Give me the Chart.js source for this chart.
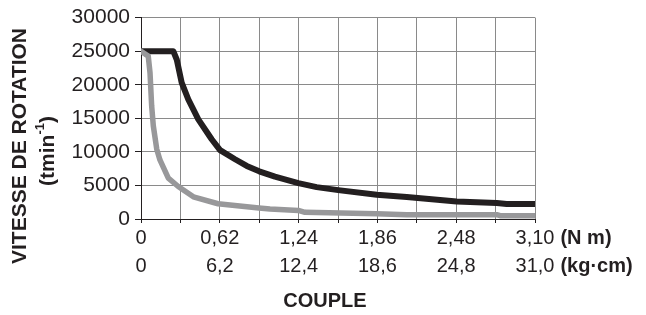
<!DOCTYPE html>
<html>
<head>
<meta charset="utf-8">
<script src="https://cdn.jsdelivr.net/npm/chart.js@4/dist/chart.umd.min.js"></script>
<style>
html, body { margin: 0; padding: 0; background: #fff; }
#wrap { width: 646px; height: 315px; }
</style>
</head>
<body>
<div id="wrap"><canvas id="myChart"></canvas></div>
<script>
// couple (N m) -> vitesse de rotation (t/min)
const blackX = [0, 0.254, 0.281, 0.320, 0.372, 0.451, 0.556, 0.622, 0.740, 0.832, 0.930, 1.054, 1.238, 1.382, 1.552, 1.855, 2.091, 2.484, 2.799, 2.877, 3.10];
const blackY = [25000, 25000, 23760, 20300, 17820, 14850, 11880, 10250, 8900, 7900, 7100, 6300, 5340, 4750, 4300, 3610, 3260, 2610, 2370, 2230, 2230];

const grayX = [0, 0.057, 0.071, 0.084, 0.097, 0.124, 0.149, 0.215, 0.293, 0.412, 0.606, 0.928, 1.015, 1.238, 1.290, 1.855, 2.091, 2.799, 2.825, 3.10];
const grayY = [25000, 24260, 21770, 16820, 13850, 10400, 8800, 6080, 4840, 3310, 2270, 1630, 1480, 1280, 1000, 790, 640, 640, 490, 490];

const labelsNm = ['0', '0,62', '1,24', '1,86', '2,48', '3,10'];
const labelsKg = ['0', '6,2', '12,4', '18,6', '24,8', '31,0'];

const FONT = 'Liberation Sans, Arial, Helvetica, sans-serif';

function toPoints(xs, ys) {
	return xs.map((x, i) => ({ x: x, y: ys[i] }));
}

// titres et unites dessines a la main
const extraText = {
	id: 'extraText',
	afterDraw(chart) {
		let ctx = chart.ctx;
		let xs = chart.scales.x;
		let area = chart.chartArea;
		ctx.save();
		ctx.fillStyle = '#231f20';

		// unites apres le dernier label
		let lastX = xs.getPixelForValue(3.10);
		ctx.font = '20px ' + FONT;
		let w1 = ctx.measureText(labelsNm[5]).width;
		let w2 = ctx.measureText(labelsKg[5]).width;
		ctx.font = 'bold 20px ' + FONT;
		ctx.textAlign = 'left';
		ctx.textBaseline = 'middle';
		ctx.fillText('(N m)', lastX + w1 / 2 + 6, area.bottom + 19);
		ctx.fillText('(kg\u00b7cm)', lastX + w2 / 2 + 6, area.bottom + 47);

		// COUPLE
		ctx.textAlign = 'center';
		ctx.fillText('COUPLE', (area.left + area.right) / 2 - 13, area.bottom + 82);

		// titre vertical
		ctx.translate(20, 146);
		ctx.rotate(-Math.PI / 2);
		ctx.font = 'bold 21px ' + FONT;
		ctx.fillText('VITESSE DE ROTATION', 0, 0);
		ctx.restore();

		ctx.save();
		ctx.fillStyle = '#231f20';
		ctx.translate(48, 151);
		ctx.rotate(-Math.PI / 2);
		ctx.textBaseline = 'middle';
		let a = '(tmin', b = '-1', c = ')';
		ctx.font = 'bold 21px ' + FONT;
		let wa = ctx.measureText(a).width;
		let wc = ctx.measureText(c).width;
		ctx.font = 'bold 13px ' + FONT;
		let wb = ctx.measureText(b).width;
		let start = -(wa + wb + wc) / 2;
		ctx.textAlign = 'left';
		ctx.font = 'bold 21px ' + FONT;
		ctx.fillText(a, start, 0);
		ctx.font = 'bold 13px ' + FONT;
		ctx.fillText(b, start + wa, -8);
		ctx.font = 'bold 21px ' + FONT;
		ctx.fillText(c, start + wa + wb, 0);
		ctx.restore();
	}
};

let ctx = document.getElementById('myChart');

let myLineChart = new Chart(ctx, {
	type: 'line',
	data: {
		datasets: [{
			data: toPoints(grayX, grayY),
			borderColor: '#98989a',
			borderWidth: 5.5,
			pointRadius: 0,
			tension: 0,
			borderCapStyle: 'round',
			borderJoinStyle: 'round'
		}, {
			data: toPoints(blackX, blackY),
			borderColor: '#231f20',
			borderWidth: 6,
			pointRadius: 0,
			tension: 0,
			borderCapStyle: 'butt',
			borderJoinStyle: 'round'
		}]
	},
	options: {
		responsive: true,
		maintainAspectRatio: false,
		animation: false,
		layout: { padding: { top: 17, right: 111, left: 0, bottom: 0 } },
		plugins: {
			legend: { display: false },
			tooltip: { enabled: false }
		},
		scales: {
			x: {
				type: 'linear',
				min: 0,
				max: 3.10,
				afterBuildTicks: function (scale) {
					scale.ticks = [];
					for (let i = 0; i <= 10; i++) scale.ticks.push({ value: i * 0.31 });
				},
				afterFit: function (scale) { scale.height = 96; },
				ticks: {
					autoSkip: false,
					maxRotation: 0,
					padding: 1,
					color: '#231f20',
					font: { family: FONT, size: 20, lineHeight: 1.4 },
					callback: function (value, index) {
						if (index % 2 !== 0) return '';
						return [labelsNm[index / 2], labelsKg[index / 2]];
					}
				},
				grid: { color: '#8a8a8a', lineWidth: 1, tickLength: 4, tickColor: '#231f20' },
				border: { color: '#231f20', width: 1 }
			},
			y: {
				min: 0,
				max: 30000,
				afterFit: function (scale) { scale.width = 141; },
				ticks: {
					stepSize: 5000,
					padding: 5,
					color: '#231f20',
					font: { family: FONT, size: 21 },
					callback: function (value) { return String(value); }
				},
				grid: { color: '#8a8a8a', lineWidth: 1, tickLength: 6, tickColor: '#231f20' },
				border: { color: '#231f20', width: 1 }
			}
		}
	},
	plugins: [extraText]
});
</script>
</body>
</html>
